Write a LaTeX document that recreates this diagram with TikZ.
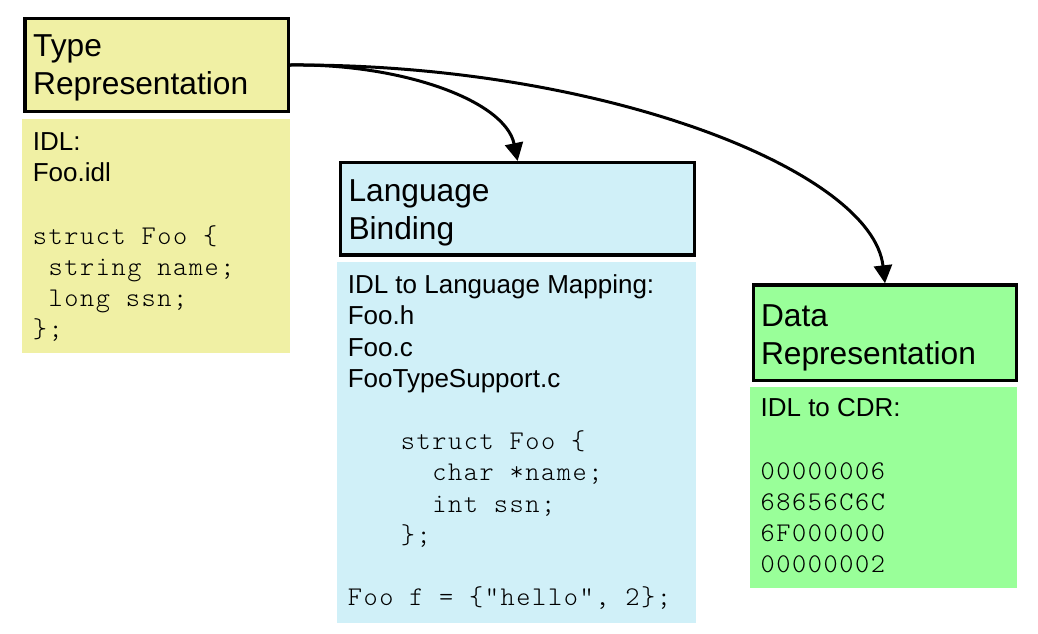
\documentclass[tikz,border=0pt]{standalone}
\usepackage{fontspec}
\setmainfont{Liberation Sans}
\setmonofont[LetterSpace=5.9]{Latin Modern Mono Light}
\usetikzlibrary{arrows.meta}
\definecolor{yel}{RGB}{240,240,164}
\definecolor{blu}{RGB}{208,240,248}
\definecolor{grn}{RGB}{153,255,153}
\newcommand{\tline}[1]{\hbox{\ttfamily\fontsize{27}{31.2}\selectfont #1}}
\newcommand{\sline}[1]{\hbox{#1}}
\begin{document}
\begin{tikzpicture}[x=1pt,y=-1pt,
  titlebox/.style={draw=black,line width=3.3pt,inner sep=0pt,outer sep=0.5\pgflinewidth,anchor=north west},
  panel/.style={inner sep=0pt,outer sep=0pt,anchor=north west},
  titletext/.style={inner sep=0pt,anchor=base west,font=\fontsize{31.7}{38}\selectfont},
  bodytext/.style={inner sep=0pt,anchor=base west,font=\fontsize{26}{31.2}\selectfont},
  flow/.style={line width=3pt,-{Triangle[length=18pt,width=18pt]}}]
\useasboundingbox (0,0) rectangle (1038,633);
% title boxes
\node[titlebox,fill=yel,minimum width=263.4pt,minimum height=93.3pt] (type) at (23.3,16.7) {};
\node[titlebox,fill=blu,minimum width=354pt,minimum height=92.3pt] (lang) at (339,161) {};
\node[titlebox,fill=grn,minimum width=263.3pt,minimum height=95.7pt] (data) at (751.7,283.3) {};
% panels
\node[panel,fill=yel,minimum width=268.3pt,minimum height=234pt] (ypanel) at (21.7,119.3) {};
\node[panel,fill=blu,minimum width=358.7pt,minimum height=361.6pt] (bpanel) at (337.3,261.7) {};
\node[panel,fill=grn,minimum width=267.3pt,minimum height=201.6pt] (gpanel) at (750,386.7) {};
% titles
\node[titletext] (typet) at (33,56) {\vtop{\hbox{Type}\hbox{Representation}}};
\node[titletext] (langt) at (348.3,201) {\vtop{\hbox{Language}\hbox{Binding}}};
\node[titletext] (datat) at (760.8,326) {\vtop{\hbox{Data}\hbox{Representation}}};
% body texts
\node[bodytext] (ytext) at (32.6,150.6) {\vtop{%
  \sline{IDL:}\sline{Foo.idl}\hbox{}%
  \tline{struct Foo \{}\tline{\ string name;}\tline{\ long ssn;}\tline{\};}}};
\node[bodytext] (btext) at (347.6,293.6) {\vtop{%
  \sline{IDL to Language Mapping:}\sline{Foo.h}\sline{Foo.c}\sline{FooTypeSupport.c}\hbox{}%
  \tline{\hspace*{53pt}struct Foo \{}\tline{\hspace*{84.5pt}char *name;}%
  \tline{\hspace*{84.5pt}int ssn;}\tline{\hspace*{53pt}\};}\hbox{}%
  \tline{Foo f = \{"hello", 2\};}}};
\node[bodytext] (gtext) at (760.4,416.9) {\vtop{%
  \sline{IDL to CDR:}\hbox{}%
  \tline{00000006}\tline{68656C6C}\tline{6F000000}\tline{00000002}}};
% connectors
\draw[flow] (type.east) .. controls (400,63.3) and (505,100) .. (lang.north);
\draw[flow] (type.east) .. controls (600,63.3) and (872,170) .. (data.north);
\end{tikzpicture}
\end{document}
